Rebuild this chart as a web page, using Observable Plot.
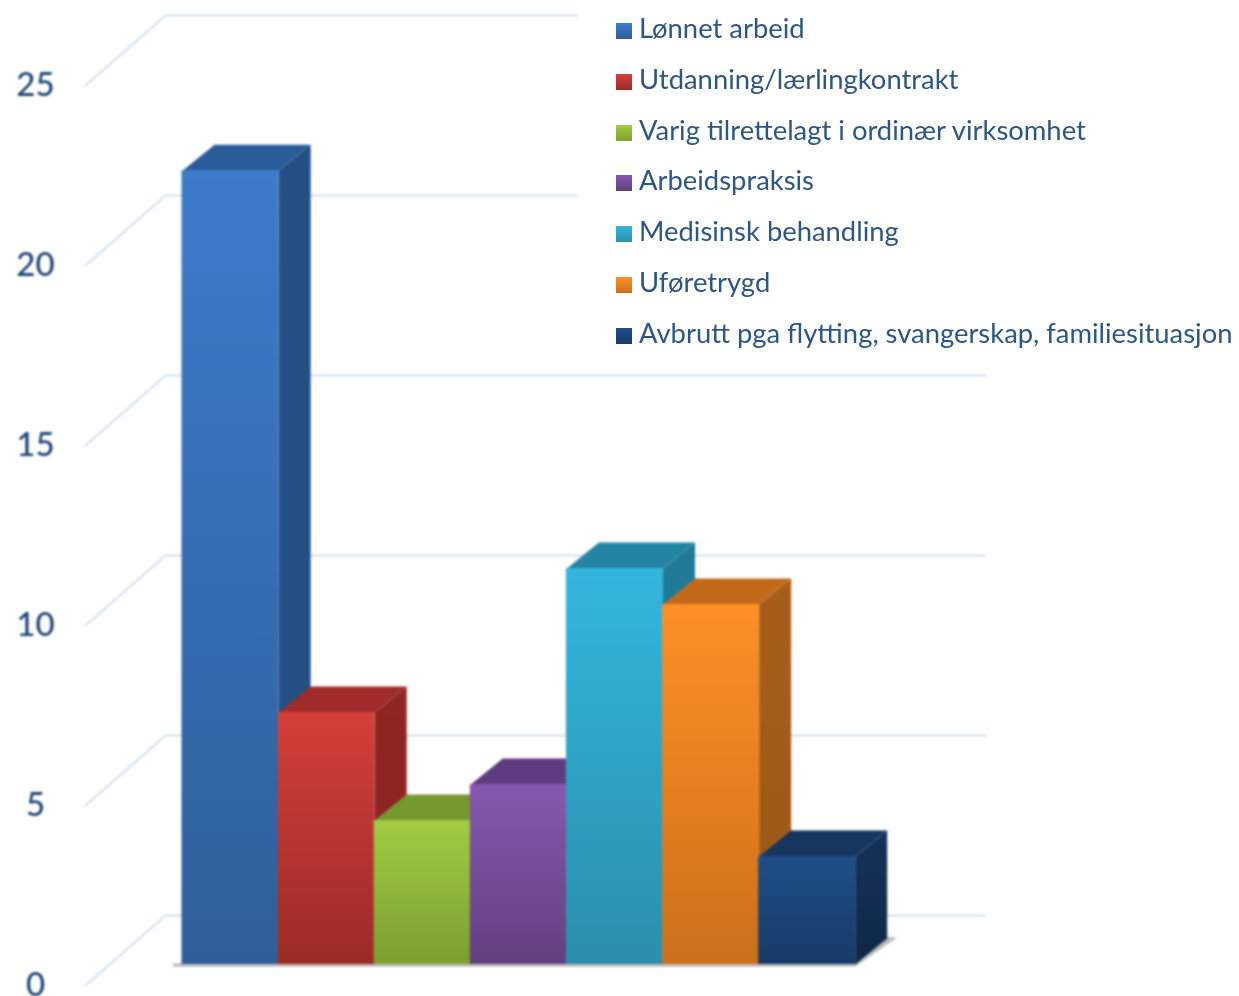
<!DOCTYPE html>
<html lang="no">
<head>
<meta charset="utf-8">
<script src="https://cdn.jsdelivr.net/npm/d3@7"></script>
<script src="https://cdn.jsdelivr.net/npm/@observablehq/plot@0.6"></script>
<style>
  html, body { margin: 0; padding: 0; background: #fff; }
  #wrap { position: relative; width: 1239px; height: 996px; overflow: hidden; }
  #chart svg { display: block; filter: blur(0.8px); }
  #legend { position: absolute; left: 578px; top: 0; width: 661px; height: 355px; background: #fff;
            font-family: Lato, sans-serif; font-size: 27.4px; color: #2b5688; filter: blur(0.45px); }
  #legend div.row { position: absolute; left: 38px; height: 36px; line-height: 36px; white-space: nowrap; }
  #legend span.sw { display: inline-block; width: 16px; height: 16px; margin-right: 7px; vertical-align: -1px; }
</style>
</head>
<body>
<div id="wrap"><div id="chart"></div><div id="legend"></div></div>
<script>
const categories = ["Lønnet arbeid", "Utdanning/lærlingkontrakt", "Varig tilrettelagt i ordinær virksomhet",
  "Arbeidspraksis", "Medisinsk behandling", "Uføretrygd", "Avbrutt pga flytting, svangerskap, familiesituasjon"];
const values = [22.05, 7, 4, 5, 11, 10, 3];
const yTicks = [0, 5, 10, 15, 20, 25];
const frontTop = ["#3d7ccb", "#d43f3a", "#a2cc43", "#8659b0", "#33b6de", "#fd9026", "#1f4f88"];
const frontBottom = ["#2f5f9b", "#9c2b28", "#7a9f30", "#62407e", "#2b8fac", "#cd6f1b", "#173b68"];
const topFace = ["#2a5c9a", "#a02c2a", "#76992f", "#5f3c7f", "#2385a3", "#c26a1a", "#163660"];
const sideTop = ["#234f84", "#8f2624", "#6a8a2a", "#553570", "#217a96", "#a85f1b", "#14335a"];
const sideBottom = ["#234f84", "#8a2422", "#6a8a2a", "#553570", "#217a96", "#9a5717", "#102848"];

// Chart geometry in data units (bar slots on x, value on y)
const W = 1239, H = 996;
const slot = 96.1, unit = 36, x0 = 182, y0 = 964;
const depthX = 32 / slot, depthY = 26 / unit;
const wallX = -17 / slot, wallY = 49 / unit;
const floorX = -97 / slot, floorY = -21 / unit, gridEnd = 803 / slot;

const gridPts = yTicks.flatMap(v => [
  {id: v, x: floorX, y: v + floorY},
  {id: v, x: wallX, y: v + wallY},
  {id: v, x: gridEnd, y: v + wallY}
]);

const n = values.length;
const shadow = [
  {x: -0.1, y: -0.06}, {x: n, y: -0.06}, {x: n + depthX + 0.1, y: 0.74},
  {x: n + depthX, y: 0.78}, {x: n, y: 0.1}, {x: -0.1, y: 0.03}
];

const gradients = () => {
  const defs = d3.create("svg:defs");
  const add = (id, a, b) => {
    const g = defs.append("linearGradient").attr("id", id).attr("x1", 0).attr("y1", 0).attr("x2", 0).attr("y2", 1);
    g.append("stop").attr("offset", "0%").attr("stop-color", a);
    g.append("stop").attr("offset", "100%").attr("stop-color", b);
  };
  values.forEach((_, i) => { add("front" + i, frontTop[i], frontBottom[i]); add("side" + i, sideTop[i], sideBottom[i]); });
  return defs.node();
};

const barMarks = values.flatMap((v, i) => {
  const side = [{x: i + 1, y: 0}, {x: i + 1 + depthX, y: depthY}, {x: i + 1 + depthX, y: v + depthY}, {x: i + 1, y: v}];
  const top = [{x: i, y: v}, {x: i + 1, y: v}, {x: i + 1 + depthX, y: v + depthY}, {x: i + depthX, y: v + depthY}];
  return [
    Plot.line(side, {x: "x", y: "y", fill: `url(#side${i})`, stroke: "none"}),
    Plot.line(top, {x: "x", y: "y", fill: topFace[i], stroke: "none"}),
    Plot.rectY([v], {x1: i, x2: i + 1, y1: 0, y2: d => d, fill: `url(#front${i})`, insetLeft: -0.5, insetRight: -0.5})
  ];
});

const plot = Plot.plot({
  width: W, height: H,
  marginTop: 0, marginRight: 0, marginBottom: 0, marginLeft: 0,
  style: {background: "#fff", fontFamily: "Lato, sans-serif", overflow: "visible"},
  x: {domain: [-x0 / slot, (W - x0) / slot], range: [0, W], axis: null},
  y: {domain: [(y0 - H) / unit, y0 / unit], range: [H, 0], axis: null},
  marks: [
    gradients,
    Plot.line(gridPts, {x: "x", y: "y", z: "id", stroke: "#d2e0f2", strokeWidth: 2}),
    Plot.line(shadow, {x: "x", y: "y", fill: "#a0a0a0", fillOpacity: 0.7, stroke: "none"}),
    ...barMarks,
    Plot.axisY({ticks: yTicks, tickSize: 0, tickPadding: 0, anchor: "left", textAnchor: "middle",
      tickFormat: d => String(d), dx: 35, dy: 20.5, fontSize: 33, fontWeight: 500, fill: "#1d4475",
      stroke: "#1d4475", strokeWidth: 0.4, label: null})
  ]
});
document.getElementById("chart").append(plot);

const legend = d3.select("#legend");
categories.forEach((c, i) => {
  const row = legend.append("div").attr("class", "row").style("top", (10 + i * 50.8) + "px");
  row.append("span").attr("class", "sw")
    .style("background", `linear-gradient(${frontTop[i]}, ${frontBottom[i]})`);
  row.append("span").text(c);
});
</script>
</body>
</html>
